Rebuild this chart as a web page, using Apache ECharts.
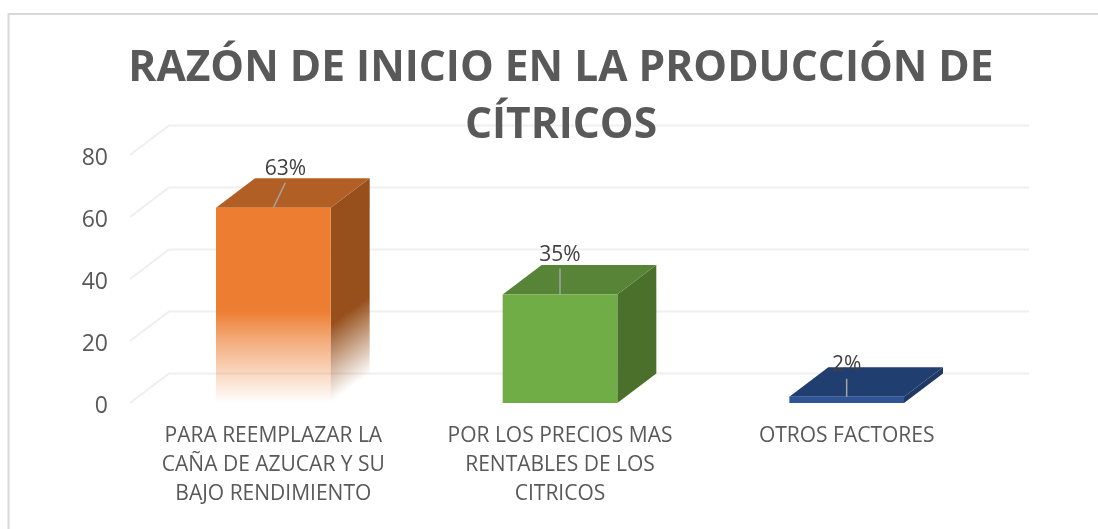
<!DOCTYPE html>
<html>
<head>
<meta charset="utf-8">
<style>
html,body{margin:0;padding:0;background:#fff;}
#chart{width:1098px;height:529px;}
</style>
<script src="https://cdn.jsdelivr.net/npm/echarts@6/dist/echarts.min.js"></script>
</head>
<body>
<div id="chart"></div>
<script>
var titleText = 'RAZÓN DE INICIO EN LA PRODUCCIÓN DE\nCÍTRICOS';
var categories = [
  'PARA REEMPLAZAR LA\nCAÑA DE AZUCAR Y SU\nBAJO RENDIMIENTO',
  'POR LOS PRECIOS MAS\nRENTABLES DE LOS\nCITRICOS',
  'OTROS FACTORES'
];
var values = [63, 35, 2];
var valueLabels = ['63%', '35%', '2%'];
var yTicks = [0, 20, 40, 60, 80];
var frontColors = ['#ed7d31', '#70ad47', '#2f5597'];
var topColors = ['#b25f25', '#588437', '#203f70'];
var sideColors = ['#97501c', '#4a702b', '#1f3864'];
var fadesOut = [true, false, false];
var labelLeanX = [12, 0, 0];
var labelRise = [25, 26, 18];

var depthX = 39, depthY = -29.5, barRatio = 0.4;

function wallItem(params, api) {
  var cs = params.coordSys;
  var y = api.coord([0, api.value(1)])[1];
  return {
    type: 'polyline',
    shape: { points: [[cs.x, y], [cs.x + depthX, y + depthY], [cs.x + cs.width + depthX, y + depthY]] },
    style: { stroke: '#efefef', lineWidth: 2, fill: null }
  };
}

function barItem(params, api) {
  var i = params.dataIndex;
  var p = api.coord([i, api.value(1)]);
  var base = api.coord([i, 0]);
  var w = api.size([1, 0])[0] * barRatio;
  var l = p[0] - w / 2, r = p[0] + w / 2, t = p[1], b = base[1];
  var front = frontColors[i], side = sideColors[i];
  if (fadesOut[i]) {
    front = new echarts.graphic.LinearGradient(0, 310, 0, b, [
      { offset: 0, color: 'rgba(237,125,49,1)' },
      { offset: 0.35, color: 'rgba(237,125,49,0.62)' },
      { offset: 0.68, color: 'rgba(237,125,49,0.3)' },
      { offset: 1, color: 'rgba(237,125,49,0)' }
    ], true);
    side = new echarts.graphic.LinearGradient(r, 325, r + 37, 375, [
      { offset: 0, color: 'rgba(151,80,28,1)' },
      { offset: 1, color: 'rgba(151,80,28,0)' }
    ], true);
  }
  var lx = p[0] + labelLeanX[i], ly = t - labelRise[i];
  return {
    type: 'group',
    children: [
      { type: 'polygon', shape: { points: [[r, t], [r + depthX, t + depthY], [r + depthX, b + depthY], [r, b]] }, style: { fill: side } },
      { type: 'polygon', shape: { points: [[l, t], [l + depthX, t + depthY], [r + depthX, t + depthY], [r, t]] }, style: { fill: topColors[i] } },
      { type: 'rect', shape: { x: l, y: t, width: w, height: b - t }, style: { fill: front } },
      { type: 'line', shape: { x1: p[0], y1: t, x2: lx, y2: ly }, style: { stroke: '#a5a5a5', lineWidth: 1.5 } },
      { type: 'text', style: { text: valueLabels[i], x: lx, y: ly - 3, align: 'center', verticalAlign: 'bottom', fontFamily: 'Open Sans', fontSize: 21, fill: '#404040' } }
    ]
  };
}

var chart = echarts.init(document.getElementById('chart'), null, { renderer: 'canvas' });
chart.setOption({
  animation: false,
  backgroundColor: '#ffffff',
  graphic: [{
    type: 'rect', z: -10, silent: true,
    shape: { x: 8.5, y: 14, width: 1120, height: 560 },
    style: { fill: 'none', stroke: '#d9d9d9', lineWidth: 2 }
  }],
  title: {
    text: titleText, left: 556, top: 35, textAlign: 'center',
    textStyle: { fontFamily: 'Open Sans', fontWeight: 'bold', fontSize: 42.5, lineHeight: 57, color: '#595959' }
  },
  grid: { left: 130, width: 860, top: 155, height: 248 },
  xAxis: {
    type: 'category', data: categories,
    axisLine: { show: false }, axisTick: { show: false }, splitLine: { show: false },
    axisLabel: { interval: 0, margin: 19, fontFamily: 'Open Sans', fontSize: 21, lineHeight: 29, color: '#595959' }
  },
  yAxis: {
    type: 'value', min: 0, max: 80, interval: 20,
    axisLine: { show: false }, axisTick: { show: false }, splitLine: { show: false },
    axisLabel: { margin: 22, verticalAlign: 'top', lineHeight: 6, fontFamily: 'Open Sans', fontSize: 23, color: '#595959' }
  },
  series: [
    { type: 'custom', name: 'wall', silent: true, clip: false, z: 1, renderItem: wallItem, encode: { x: 0, y: 1 },
      data: yTicks.map(function (v) { return [0, v]; }) },
    { type: 'custom', name: 'razon', silent: true, clip: false, z: 2, renderItem: barItem, encode: { x: 0, y: 1 },
      data: values.map(function (v, i) { return [i, v]; }) }
  ]
});
</script>
</body>
</html>
